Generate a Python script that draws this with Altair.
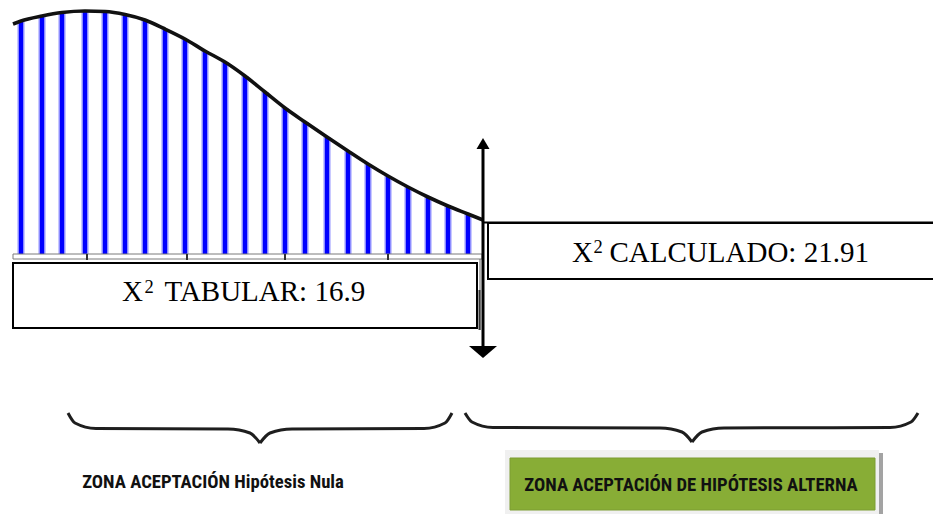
import altair as alt
import pandas as pd

# ---------------- values ----------------
# density curve (x, height) in picture units
CURVE_X = [13, 21, 42, 62, 85, 105, 125, 145, 165, 185, 205, 225, 245, 265,
           285, 305, 327, 348, 368, 388, 408, 428, 448, 468, 483]
CURVE_Y = [24, 21, 16, 12.5, 11, 11.5, 14.5, 20, 29, 39, 51, 62, 76, 92,
           108, 122, 137, 151, 164, 176, 187, 197, 206, 214, 220]
# blue hatch lines under the curve
HATCH_X = CURVE_X[1:-1]
HATCH_TOP = CURVE_Y[1:-1]
# small marks on the base line
BASE_TICKS = [87, 187, 285, 388]

TAB_PARTS = ["X", "2", "TABULAR: 16.9"]
CALC_PARTS = ["X", "2", "CALCULADO: 21.91"]
ZONE_NULL = "ZONA ACEPTACIÓN Hipótesis Nula"
ZONE_ALT = "ZONA ACEPTACIÓN  DE HIPÓTESIS ALTERNA"

# ---------------- layout ----------------
BASE_Y0, BASE_Y1 = 254, 259
CRIT_X = 483
W, H = 925, 506
xs = alt.Scale(domain=[8, 933], nice=False, zero=False)
ys = alt.Scale(domain=[8, 514], nice=False, zero=False, reverse=True)


def X(f="x"):
    return alt.X(f"{f}:Q", scale=xs, axis=None)


def Y(f="y"):
    return alt.Y(f"{f}:Q", scale=ys, axis=None)


def rect(x0, x1, y0, y1, **kw):
    df = pd.DataFrame({"x": [x0], "x2": [x1], "y": [y0], "y2": [y1]})
    return alt.Chart(df).mark_rect(**kw).encode(
        x=X(), x2="x2:Q", y=Y(), y2="y2:Q")


def hrule(x0, x1, y, **kw):
    df = pd.DataFrame({"x": [x0], "x2": [x1], "y": [y]})
    return alt.Chart(df).mark_rule(**kw).encode(x=X(), x2="x2:Q", y=Y())


def vrule(x, y0, y1, **kw):
    df = pd.DataFrame({"x": [x], "y": [y0], "y2": [y1]})
    return alt.Chart(df).mark_rule(**kw).encode(x=X(), y=Y(), y2="y2:Q")


def text(label, x, y, **kw):
    df = pd.DataFrame({"x": [x], "y": [y], "t": [label]})
    return alt.Chart(df).mark_text(**kw).encode(x=X(), y=Y(), text="t:N")


def brace(x0, x1, xc, ytop, ymid, ytip):
    pts = [
        (x0, ytop, "a"), (x0 + 7, ymid - 6, "a"), (x0 + 28, ymid - 0.5, "a"),
        (xc - 32, ymid, "a"), (xc - 10, ymid + 4, "a"), (xc, ytip, "a"),
        (xc, ytip, "b"), (xc + 10, ymid + 4, "b"), (xc + 32, ymid, "b"),
        (x1 - 28, ymid - 0.5, "b"), (x1 - 7, ymid - 6, "b"), (x1, ytop, "b"),
    ]
    df = pd.DataFrame(pts, columns=["x", "y", "half"])
    return alt.Chart(df).mark_line(
        color="#1e1e1e", strokeWidth=3, interpolate="monotone"
    ).encode(x=X(), y=Y(), detail="half:N")


hatch_df = pd.DataFrame({"x": HATCH_X, "y": HATCH_TOP,
                         "y2": [BASE_Y0] * len(HATCH_X)})
hatch_halo = alt.Chart(hatch_df).mark_rule(color="#c9c9ff", strokeWidth=8).encode(
    x=X(), y=Y(), y2="y2:Q")
hatch = alt.Chart(hatch_df).mark_rule(color="#0000ff", strokeWidth=4.6).encode(
    x=X(), y=Y(), y2="y2:Q")

curve_df = pd.DataFrame({"x": CURVE_X, "y": CURVE_Y})
curve = alt.Chart(curve_df).mark_line(
    color="#111111", strokeWidth=3.6, interpolate="monotone"
).encode(x=X(), y=Y())

ticks_df = pd.DataFrame({"x": BASE_TICKS, "y": [BASE_Y0] * 4,
                         "y2": [BASE_Y1 + 1] * 4})
ticks = alt.Chart(ticks_df).mark_rule(color="#333333", strokeWidth=2).encode(
    x=X(), y=Y(), y2="y2:Q")

arrow_df = pd.DataFrame({"x": [CRIT_X], "y": [143.5]})
arrow_up = alt.Chart(arrow_df).mark_point(
    shape="M0,-0.846L1,0.846L-1,0.846Z", size=169, filled=True,
    color="black", opacity=1, strokeWidth=0
).encode(x=X(), y=Y())
arrow_dn_df = pd.DataFrame({"x": [CRIT_X], "y": [352]})
arrow_dn = alt.Chart(arrow_dn_df).mark_point(
    shape="M-1,-0.4286L1,-0.4286L0,0.4286Z", size=784, filled=True,
    color="black", opacity=1, strokeWidth=0
).encode(x=X(), y=Y())

SERIF = "Liberation Serif"
SANS = "Roboto Condensed, DejaVu Sans Condensed, Liberation Sans Narrow"
MAIN = dict(font=SERIF, fontSize=29, align="left", baseline="alphabetic",
            color="black")
SUP = dict(font=SERIF, fontSize=18.5, align="left", baseline="alphabetic",
           color="black")

layers = [
    hatch_halo,
    hatch,
    rect(13, 482, BASE_Y0, BASE_Y1, fill="white", stroke="#7a7a7a", strokeWidth=1),
    ticks,
    curve,
    rect(13, 477, 263, 328, fill="white", stroke="black", strokeWidth=2),
    vrule(480, BASE_Y1, 330, color="#666666", strokeWidth=1),
    vrule(479.5, 290, 330, color="#333333", strokeWidth=2),
    rect(488, 960, 223, 279, fill="white", stroke="black", strokeWidth=2),
    hrule(CRIT_X, 941, 222.5, color="black", strokeWidth=2),
    vrule(CRIT_X, 145, 350, color="black", strokeWidth=3),
    arrow_up,
    arrow_dn,
    text(TAB_PARTS[0], 122, 301, **MAIN),
    text(TAB_PARTS[1], 144.5, 292.5, **SUP),
    text(TAB_PARTS[2], 164.5, 301, **MAIN),
    text(CALC_PARTS[0], 572, 262, **MAIN),
    text(CALC_PARTS[1], 593.5, 252.5, **SUP),
    text(CALC_PARTS[2], 609.5, 262, **MAIN),
    brace(68, 452, 260, 413, 429, 443),
    brace(465, 918, 692, 413, 428, 442),
    rect(508, 883, 453, 521, fill="#a3a3a3"),
    rect(505, 879, 450, 518, fill="#f0f0f0"),
    rect(510, 875, 458, 510, fill="#88ad36", stroke="#7c9d32", strokeWidth=1),
    text(ZONE_NULL, 213, 482, font=SANS, fontSize=18.7, fontWeight="bold",
         align="center", baseline="middle", color="#111111"),
    text(ZONE_ALT, 691, 485, font=SANS, fontSize=18.7, fontWeight="bold",
         align="center", baseline="middle", color="#111111"),
]

chart = alt.layer(*layers).properties(
    width=W, height=H, background="white", padding=0,
    autosize=alt.AutoSizeParams(type="none")
).configure_view(stroke=None)

chart.save("out.html", embed_options={"renderer": "svg", "actions": False})
